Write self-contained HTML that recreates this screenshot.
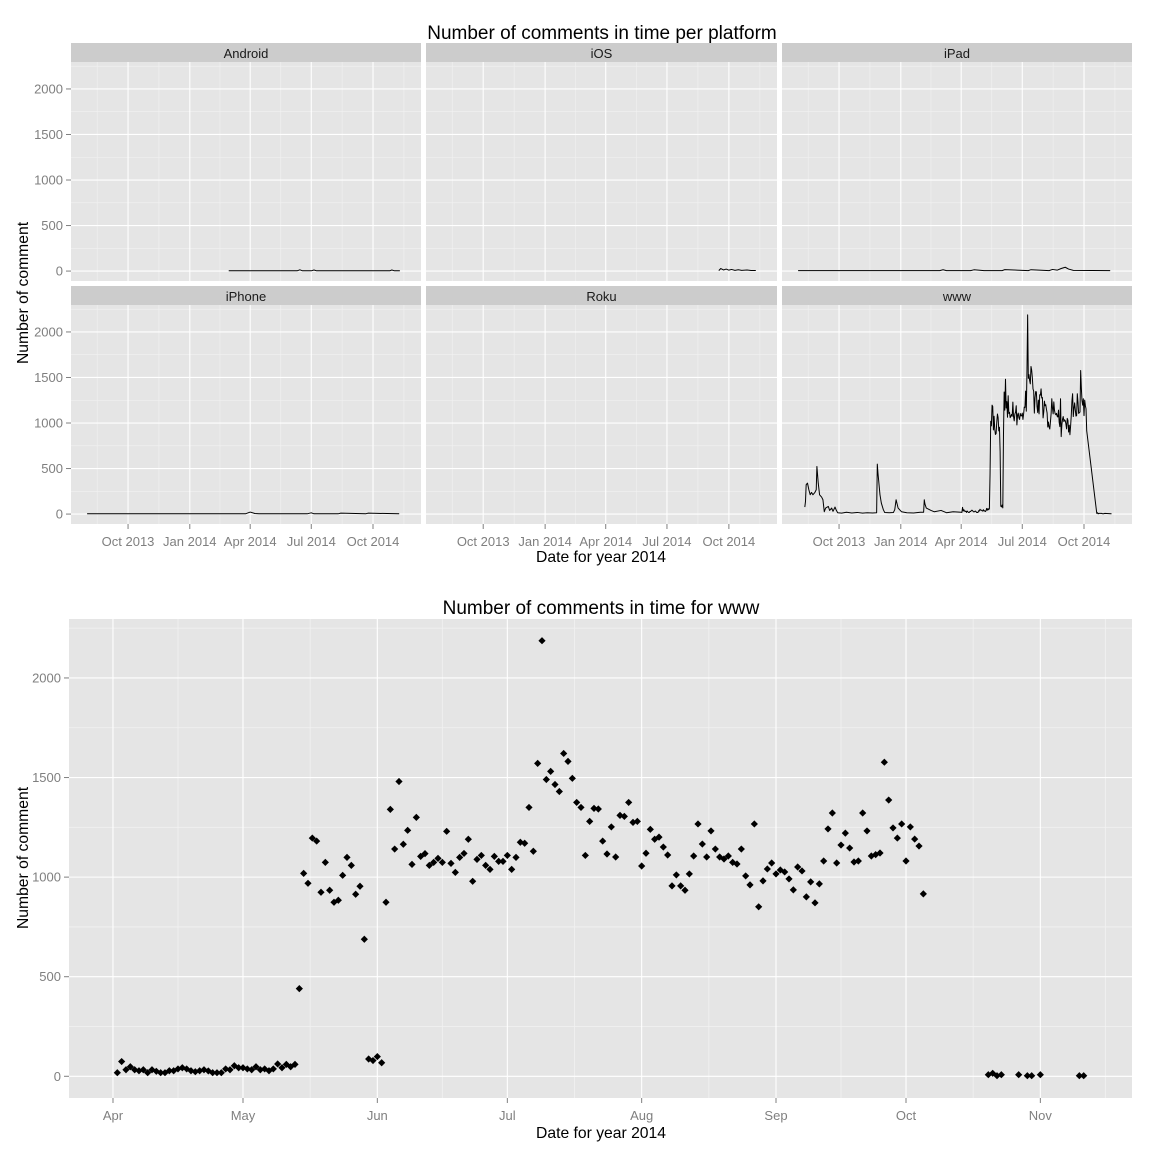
<!DOCTYPE html>
<html><head><meta charset="utf-8"><title>Comments per platform</title>
<style>
html,body{margin:0;padding:0;background:#fff;}
svg{display:block;font-family:"Liberation Sans",Arial,sans-serif;}
</style></head>
<body>
<svg id="chart" width="1152" height="1152" viewBox="0 0 1152 1152" xmlns="http://www.w3.org/2000/svg">
<rect x="0" y="0" width="1152" height="1152" fill="#ffffff"/>
<text x="602" y="39" text-anchor="middle" font-size="19" fill="#000">Number of comments in time per platform</text>
<text x="601" y="562" text-anchor="middle" font-size="15.7" fill="#000">Date for year 2014</text>
<text transform="translate(28,293) rotate(-90)" text-anchor="middle" font-size="15.7" fill="#000">Number of comment</text>
<text x="601" y="614" text-anchor="middle" font-size="19" fill="#000">Number of comments in time for www</text>
<text x="601" y="1138" text-anchor="middle" font-size="15.7" fill="#000">Date for year 2014</text>
<text transform="translate(28,858) rotate(-90)" text-anchor="middle" font-size="15.7" fill="#000">Number of comment</text>
<g id="facets"></g>
<g id="bottom"></g>
</svg>
<script>
// ---------- data ----------
const platforms = ["Android","iOS","iPad","iPhone","Roku","www"];
const androidDates = ["2014-02-28","2014-06-10","2014-06-14","2014-06-18","2014-07-01","2014-07-05","2014-07-09","2014-09-01","2014-10-26","2014-10-29","2014-11-02","2014-11-10"];
const androidValues = [3,3,14,3,3,12,3,3,3,12,3,3];
const iosDates = ["2014-09-16","2014-09-19","2014-09-23","2014-09-27","2014-10-01","2014-10-05","2014-10-10","2014-10-15","2014-10-20","2014-10-28","2014-11-03","2014-11-10"];
const iosValues = [5,28,12,22,10,18,8,15,8,12,6,6];
const ipadDates = ["2013-08-01","2014-02-28","2014-03-05","2014-03-10","2014-04-15","2014-04-20","2014-05-05","2014-06-01","2014-06-05","2014-07-10","2014-07-14","2014-08-10","2014-08-15","2014-08-22","2014-08-28","2014-09-03","2014-09-08","2014-09-15","2014-11-09"];
const ipadValues = [5,5,15,5,5,14,5,5,16,5,15,5,18,10,28,42,22,8,5];
const iphoneDates = ["2013-08-01","2014-03-25","2014-04-01","2014-04-08","2014-04-14","2014-06-25","2014-07-01","2014-07-05","2014-08-10","2014-08-14","2014-09-20","2014-09-24","2014-11-09"];
const iphoneValues = [3,3,22,6,3,3,14,3,3,10,3,10,3];
const rokuDates = [];
const rokuValues = [];
// www early period (Aug 2013 - Mar 2014)
const wwwEarlyDates = ["2013-08-11","2013-08-12","2013-08-13","2013-08-15","2013-08-17","2013-08-19","2013-08-21","2013-08-23","2013-08-26","2013-08-28","2013-08-29","2013-08-31","2013-09-02","2013-09-05","2013-09-07","2013-09-09","2013-09-11","2013-09-15","2013-09-17","2013-09-20","2013-09-22","2013-09-25","2013-09-27","2013-09-29","2013-10-05","2013-10-12","2013-10-20","2013-10-28","2013-11-05","2013-11-12","2013-11-20","2013-11-26","2013-11-27","2013-11-28","2013-12-01","2013-12-03","2013-12-06","2013-12-08","2013-12-15","2013-12-21","2013-12-23","2013-12-25","2013-12-28","2014-01-02","2014-01-10","2014-01-20","2014-01-30","2014-02-04","2014-02-05","2014-02-06","2014-02-08","2014-02-15","2014-02-20","2014-03-02","2014-03-10","2014-03-20","2014-04-01"];
const wwwEarlyValues = [77,139,322,340,267,212,238,212,238,267,523,340,212,187,157,26,66,84,40,66,30,77,40,15,10,20,12,18,10,14,12,15,549,450,212,121,48,18,15,18,48,157,66,26,15,12,20,20,157,110,66,40,25,40,15,25,20];
// www daily values starting 2014-04-02
const wwwDailyStart = "2014-04-02";
const wwwDaily = [18,74,33,48,33,28,33,18,33,25,18,18,28,28,37,43,37,28,23,28,33,27,18,18,18,37,33,53,43,43,37,33,48,33,37,28,37,62,43,60,48,60,
440,1019,969,1196,1181,924,1074,934,874,884,1009,1099,1059,914,954,688,87,79,99,68,874,1340,1141,1480,1165,1235,1064,1300,1104,1118,1059,1074,1094,1074,1230,1069,1024,1099,1119,1190,979,1089,1109,1059,1039,1104,1079,1079,1109,1039,1099,1175,1170,1350,1130,1571,2187,1490,1531,1465,1430,1621,1581,1496,1375,1350,1109,1280,1345,1342,
1181,1116,1252,1101,1310,1305,1375,1275,1280,1056,1120,1240,1190,1201,1151,1111,956,1011,956,934,1016,1106,1267,1166,1101,1232,1141,1101,1091,1106,1074,1066,1141,1006,961,1267,851,981,1041,1071,1016,1036,1026,991,936,1051,1031,901,976,871,966,1081,1242,1322,1071,1161,1221,1146,1076,1081,1322,1232,1106,1113,1121,1577,1387,1247,1196,1267,1081,1252,1191,1156,916];
const wwwLateDates = ["2014-10-20","2014-10-21","2014-10-22","2014-10-23","2014-10-27","2014-10-29","2014-10-30","2014-11-01","2014-11-10","2014-11-11"];
const wwwLateValues = [8,15,3,8,8,3,3,8,3,3];
const yTicks = [0,500,1000,1500,2000];
const yTickLabels = ["0","500","1000","1500","2000"];
const facetXTicks = ["2013-10-01","2014-01-01","2014-04-01","2014-07-01","2014-10-01"];
const facetXTickLabels = ["Oct 2013","Jan 2014","Apr 2014","Jul 2014","Oct 2014"];
const bottomXTicks = ["2014-04-01","2014-05-01","2014-06-01","2014-07-01","2014-08-01","2014-09-01","2014-10-01","2014-11-01"];
const bottomXTickLabels = ["Apr","May","Jun","Jul","Aug","Sep","Oct","Nov"];

// ---------- helpers ----------
const NS = "http://www.w3.org/2000/svg";
const DAY = 86400000;
const TICK_FS = 13;
function t(s){const p=s.split("-");return Date.UTC(+p[0],+p[1]-1,+p[2]);}
function mk(tag, attrs, parent){const e=document.createElementNS(NS,tag);for(const k in attrs)e.setAttribute(k,attrs[k]);parent.appendChild(e);return e;}

const wwwDates = wwwEarlyDates.map(t);
const wwwVals = wwwEarlyValues.slice();
const ds = t(wwwDailyStart);
wwwDaily.forEach((v,i)=>{wwwDates.push(ds+i*DAY);wwwVals.push(v);});
wwwLateDates.forEach((d,i)=>{wwwDates.push(t(d));wwwVals.push(wwwLateValues[i]);});

const series = {
  "Android":[androidDates.map(t),androidValues],
  "iOS":[iosDates.map(t),iosValues],
  "iPad":[ipadDates.map(t),ipadValues],
  "iPhone":[iphoneDates.map(t),iphoneValues],
  "Roku":[rokuDates.map(t),rokuValues],
  "www":[wwwDates,wwwVals]
};

const yMin=-109, yMax=2296;
const fxMin = t("2013-10-01") - 85*DAY, fxMax = t("2014-10-01") + 71.5*DAY;

// ---------- facets ----------
const facets = document.getElementById("facets");
const colX = [71,426,782], colW = [350,351,350];
const stripY = [43,286], panelY = [62,305], panelH = 219;
platforms.forEach((name,idx)=>{
  const r=Math.floor(idx/3), c=idx%3;
  const x0=colX[c], w=colW[c], y0=panelY[r];
  const g = mk("g",{},facets);
  
  
  const sx = d => x0 + (d-fxMin)/(fxMax-fxMin)*w;
  const sy = v => y0 + panelH - (v-yMin)/(yMax-yMin)*panelH;
  const strip = mk("rect",{x:x0,y:stripY[r],width:w,height:19,fill:"#cccccc"},g);
  
  
  const st = mk("text",{x:x0+w/2,y:stripY[r]+15,"text-anchor":"middle","font-size":13,fill:"#1a1a1a"},g);
  st.textContent = name;
  
  
  const bg = mk("rect",{x:x0,y:y0,width:w,height:panelH,fill:"#e5e5e5"},g);
  
  
  for(let v=250; v<yMax; v+=500){const l=mk("line",{x1:x0,x2:x0+w,y1:sy(v),y2:sy(v),stroke:"#f2f2f2","stroke-width":0.6},g);
    
    }
  const qs = ["2013-07-01"].concat(facetXTicks).concat(["2015-01-01"]).map(t);
  for(let i=0;i<qs.length-1;i++){const m=(qs[i]+qs[i+1])/2;const X=sx(m); if(X>x0&&X<x0+w){const l=mk("line",{x1:X,x2:X,y1:y0,y2:y0+panelH,stroke:"#f2f2f2","stroke-width":0.6},g);
    
    }}
  yTicks.forEach((v,i)=>{const l=mk("line",{x1:x0,x2:x0+w,y1:sy(v),y2:sy(v),stroke:"#ffffff","stroke-width":1.1},g);
    
    
    if(c===0){
      const tk=mk("line",{x1:x0-5,x2:x0,y1:sy(v),y2:sy(v),stroke:"#7f7f7f","stroke-width":1},g);
      
      
      const tl=mk("text",{x:x0-8,y:sy(v)+4.5,"text-anchor":"end","font-size":TICK_FS,fill:"#7f7f7f"},g);
      tl.textContent=yTickLabels[i];
      
      
    }});
  facetXTicks.forEach((d,i)=>{const X=sx(t(d));
    const l=mk("line",{x1:X,x2:X,y1:y0,y2:y0+panelH,stroke:"#ffffff","stroke-width":1.1},g);
    
    
    if(r===1){
      const tk=mk("line",{x1:X,x2:X,y1:y0+panelH,y2:y0+panelH+5,stroke:"#7f7f7f","stroke-width":1},g);
      
      
      const tl=mk("text",{x:X,y:y0+panelH+22,"text-anchor":"middle","font-size":TICK_FS,fill:"#7f7f7f"},g);
      tl.textContent=facetXTickLabels[i];
      
      
    }});
  const [dd,vv]=series[name];
  if(dd.length){
    const pts = dd.map((d,i)=>sx(d).toFixed(2)+","+sy(vv[i]).toFixed(2)).join(" ");
    const pl = mk("polyline",{points:pts,fill:"none",stroke:"#000","stroke-width":1,"stroke-linejoin":"round"},g);
    
    
  }
});

// ---------- bottom scatter ----------
const bottom = document.getElementById("bottom");
const bx0=69, bw=1063, by0=619, bh=479;
const bxMin = t("2014-04-01") - 10.15*DAY, bxMax = t("2014-04-01") + 235.15*DAY;
const bsx = d => bx0 + (d-bxMin)/(bxMax-bxMin)*bw;
const bsy = v => by0 + bh - (v-yMin)/(yMax-yMin)*bh;
const bbg = mk("rect",{x:bx0,y:by0,width:bw,height:bh,fill:"#e5e5e5"},bottom);


for(let v=250; v<yMax; v+=500){const l=mk("line",{x1:bx0,x2:bx0+bw,y1:bsy(v),y2:bsy(v),stroke:"#f2f2f2","stroke-width":0.8},bottom);
  
  }
const mths = ["2014-03-01"].concat(bottomXTicks).concat(["2014-12-01"]).map(t);
for(let i=0;i<mths.length-1;i++){const X=bsx((mths[i]+mths[i+1])/2);if(X>bx0&&X<bx0+bw){const l=mk("line",{x1:X,x2:X,y1:by0,y2:by0+bh,stroke:"#f2f2f2","stroke-width":0.8},bottom);
  
  }}
yTicks.forEach((v,i)=>{
  const l=mk("line",{x1:bx0,x2:bx0+bw,y1:bsy(v),y2:bsy(v),stroke:"#ffffff","stroke-width":1.1},bottom);
  
  
  const tk=mk("line",{x1:bx0-5,x2:bx0,y1:bsy(v),y2:bsy(v),stroke:"#7f7f7f","stroke-width":1},bottom);
  
  
  const tl=mk("text",{x:bx0-8,y:bsy(v)+4.5,"text-anchor":"end","font-size":TICK_FS,fill:"#7f7f7f"},bottom);
  tl.textContent=yTickLabels[i];
  
  
});
bottomXTicks.forEach((d,i)=>{const X=bsx(t(d));
  const l=mk("line",{x1:X,x2:X,y1:by0,y2:by0+bh,stroke:"#ffffff","stroke-width":1.1},bottom);
  
  
  const tk=mk("line",{x1:X,x2:X,y1:by0+bh,y2:by0+bh+5,stroke:"#7f7f7f","stroke-width":1},bottom);
  
  
  const tl=mk("text",{x:X,y:by0+bh+22,"text-anchor":"middle","font-size":TICK_FS,fill:"#7f7f7f"},bottom);
  tl.textContent=bottomXTickLabels[i];
  
  
});
const pointsG = mk("g",{},bottom);


function diamond(d,v){
  const X=bsx(d), Y=bsy(v), s=3.6;
  const p=mk("polygon",{points:`${X},${Y-s} ${X+s},${Y} ${X},${Y+s} ${X-s},${Y}`,fill:"#000"},pointsG);
  
  
}
wwwDaily.forEach((v,i)=>diamond(ds+i*DAY,v));
wwwLateDates.forEach((d,i)=>diamond(t(d),wwwLateValues[i]));
</script>
</body></html>
